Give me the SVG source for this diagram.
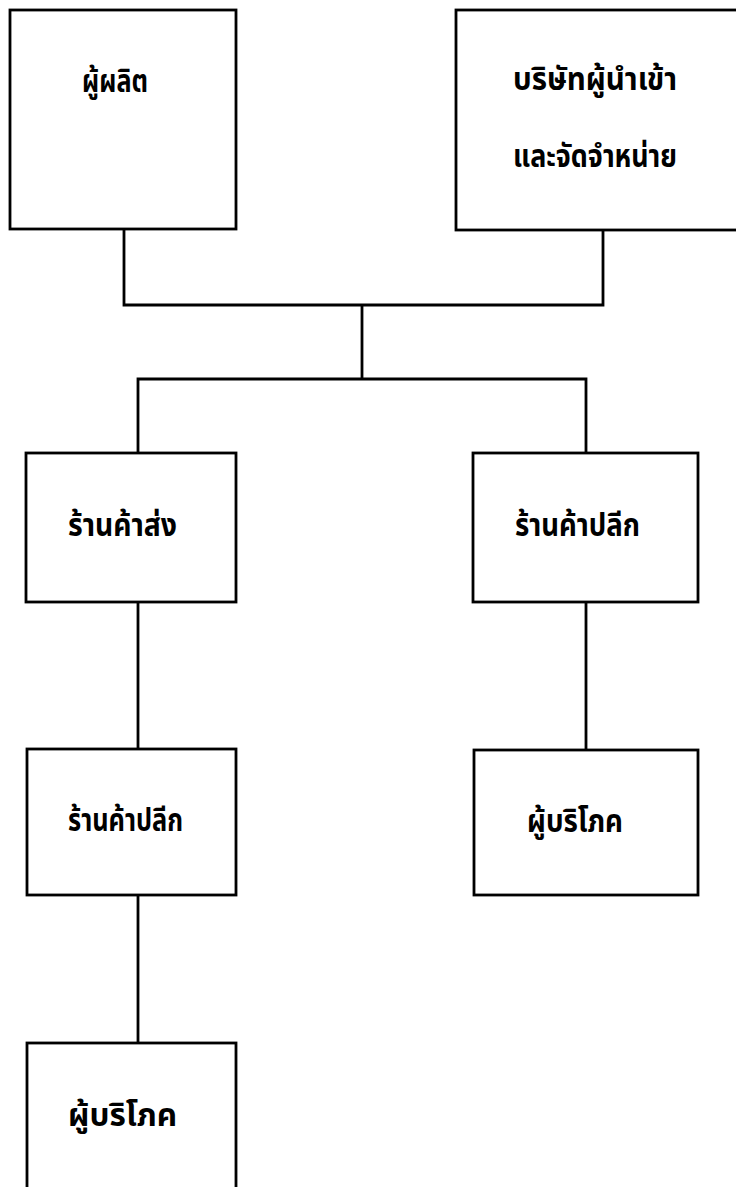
<svg xmlns="http://www.w3.org/2000/svg" width="736" height="1187" viewBox="0 0 736 1187">
<style>
.box{fill:#fff;stroke:#000;stroke-width:2.8}
.ln{fill:none;stroke:#000;stroke-width:2.8}
.t{font-family:"Noto Sans Thai","Noto Sans","DejaVu Sans",sans-serif;font-weight:bold;font-size:31px;fill:#000}
</style>
<rect width="736" height="1187" fill="#fff"/>
<g id="connectors">
<polyline class="ln" points="124,229 124,305 603,305 603,230"/>
<polyline class="ln" points="362,305 362,379"/>
<polyline class="ln" points="138,453 138,379 586,379 586,453"/>
<line class="ln" x1="138" y1="602" x2="138" y2="749"/>
<line class="ln" x1="586" y1="602" x2="586" y2="750"/>
<line class="ln" x1="138" y1="895" x2="138" y2="1043"/>
</g>
<g id="producer">
<rect class="box" x="10" y="10" width="226" height="219"/>
<text class="t" x="82" y="92" textLength="66" lengthAdjust="spacingAndGlyphs">ผู้ผลิต</text>
</g>
<g id="importer">
<rect class="box" x="456" y="10" width="290" height="220"/>
<text class="t" x="513" y="90" textLength="164" lengthAdjust="spacingAndGlyphs">บริษัทผู้นำเข้า</text>
<text class="t" x="513" y="167" textLength="164" lengthAdjust="spacingAndGlyphs">และจัดจำหน่าย</text>
</g>
<g id="wholesale">
<rect class="box" x="26" y="453" width="210" height="149"/>
<text class="t" x="68" y="536" textLength="109" lengthAdjust="spacingAndGlyphs">ร้านค้าส่ง</text>
</g>
<g id="retail-right">
<rect class="box" x="473" y="453" width="225" height="149"/>
<text class="t" x="515" y="536" textLength="125" lengthAdjust="spacingAndGlyphs">ร้านค้าปลีก</text>
</g>
<g id="retail-left">
<rect class="box" x="27" y="749" width="209" height="146"/>
<text class="t" x="68" y="831" textLength="115" lengthAdjust="spacingAndGlyphs">ร้านค้าปลีก</text>
</g>
<g id="consumer-right">
<rect class="box" x="474" y="750" width="224" height="145"/>
<text class="t" x="527" y="832" textLength="96" lengthAdjust="spacingAndGlyphs">ผู้บริโภค</text>
</g>
<g id="consumer-left">
<rect class="box" x="27" y="1043" width="209" height="160"/>
<text class="t" x="68" y="1126" textLength="109" lengthAdjust="spacingAndGlyphs">ผู้บริโภค</text>
</g>
</svg>
